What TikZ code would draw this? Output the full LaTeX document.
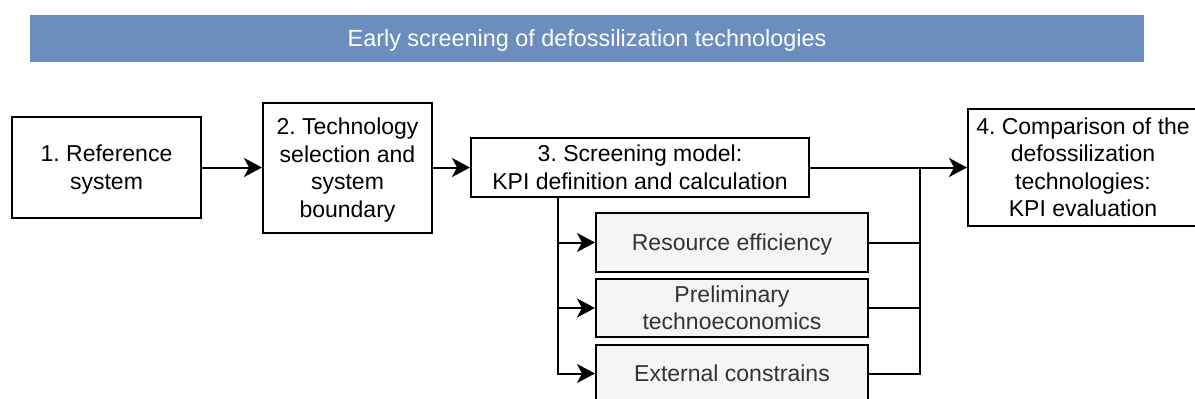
\documentclass[tikz,border=0pt]{standalone}
\usepackage{fontspec}
\setmainfont{Liberation Sans}
\usetikzlibrary{arrows.meta}
\definecolor{bannerblue}{HTML}{6C8EBF}
\definecolor{subfill}{HTML}{F5F5F5}
\definecolor{subtext}{HTML}{333333}
\newcommand{\tstrut}{\rule{0pt}{21.5pt}}
\tikzset{
  vstrut/.style={execute at end node={\rule[-5.5pt]{0pt}{5.5pt}}},
  box/.style={draw=black, line width=2pt, fill=white, inner sep=0pt, align=center,
    font=\fontsize{23}{27.6}\selectfont\frenchspacing, text=black, vstrut},
  subbox/.style={box, fill=subfill, text=subtext},
  conn/.style={line width=2pt, draw=black},
  arr/.style={conn, -{Stealth[length=18pt, width=19pt, inset=5pt]}},
}
\begin{document}
\begin{tikzpicture}[x=1pt, y=-1pt]
\useasboundingbox (0,0) rectangle (1195,399);
\clip (0,0) rectangle (1195,399);
\node[fill=bannerblue, minimum width=1114pt, minimum height=47pt, inner sep=0pt,
  text=white, font=\fontsize{23.4}{28}\selectfont, vstrut] (banner) at (587,38.5)
  {\tstrut Early screening of defossilization technologies};
\node[box, minimum width=189pt, minimum height=101pt] (b1) at (106.5,167.5)
  {\tstrut 1. Reference\\system};
\node[box, minimum width=169pt, minimum height=130pt] (b2) at (347.5,168)
  {\tstrut 2. Technology\\selection and\\system\\boundary};
\node[box, minimum width=338pt, minimum height=59pt] (b3) at (640,167.5)
  {\tstrut 3. Screening model:\\KPI definition and calculation};
\node[box, minimum width=230pt, minimum height=117pt] (b4) at (1083,167.5)
  {\tstrut 4. Comparison of the\\defossilization\\technologies:\\KPI evaluation};
\node[subbox, minimum width=272pt, minimum height=59pt] (r1) at (732,242.5)
  {\tstrut Resource efficiency};
\node[subbox, minimum width=272pt, minimum height=58pt] (r2) at (732,308)
  {\tstrut Preliminary\\technoeconomics};
\node[subbox, minimum width=272pt, minimum height=57pt] (r3) at (732,373.5)
  {\tstrut External constrains};
\coordinate (split) at (558,197);
\coordinate (join) at (920,167.5);
\draw[arr] (b1.east) -- (b2.west |- b1.east);
\draw[arr] (b2.east |- b3.west) -- (b3.west);
\draw[arr] (b3.east) -- (b4.west |- b3.east);
\draw[arr] (split) |- (r1.west);
\draw[arr] (split) |- (r2.west);
\draw[arr] (split) |- (r3.west);
\draw[conn] (r1.east) -| (join);
\draw[conn] (r2.east) -| (join);
\draw[conn] (r3.east) -| (join);
\end{tikzpicture}
\end{document}
